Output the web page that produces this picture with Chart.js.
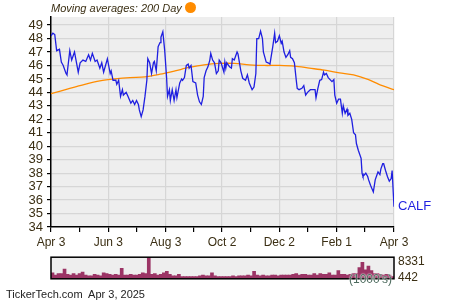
<!DOCTYPE html>
<html>
<head>
<meta charset="utf-8">
<script src="https://cdn.jsdelivr.net/npm/chart.js@4.4.1/dist/chart.umd.min.js"></script>
<style>
  body { margin: 0; background: #fff; width: 450px; height: 300px; overflow: hidden; position: relative; font-family: 'Liberation Sans', Arial, sans-serif; }
  canvas { position: absolute; left: 0; }
  #priceChart { top: 0; }
  #volChart { top: 246px; }
  .txt { position: absolute; white-space: nowrap; color: #3b2f14; }
  #head { left: 51px; top: 2px; font-size: 11px; font-style: italic; line-height: 13px; }
  #dot { position: absolute; left: 185px; top: 2px; width: 11px; height: 11px; border-radius: 50%; background: #ff8c00; }
  #units { left: 349px; top: 273px; font-size: 12px; line-height: 13px; color: #4d6b5e; text-shadow: 0 0 2px #fff, 0 0 1px #fff; }
  #foot { left: 6px; top: 288px; font-size: 11px; line-height: 13px; color: #222; }
</style>
</head>
<body>
<canvas id="priceChart" width="450" height="252"></canvas>
<canvas id="volChart" width="450" height="44"></canvas>
<div class="txt" id="head">Moving averages: 200 Day</div>
<div id="dot"></div>
<div class="txt" id="units">(1000's)</div>
<div class="txt" id="foot">TickerTech.com&nbsp; Apr 3, 2025</div>
<script>
// days since Apr 3, 2024
const days = [0,2,4,6,9,11,13,16,17,20,22,25,29,31,34,37,40,42,44,47,49,52,54,56,58,60,63,64,66,69,70,72,74,76,77,80,82,85,87,89,91,93,94,96,98,100,102,103,105,107,109,110,112,114,116,117,119,121,123,124,126,127,129,131,133,134,137,139,140,142,144,146,147,149,151,154,156,158,160,162,163,165,167,169,170,172,174,176,178,179,181,184,185,186,187,190,192,193,195,198,199,202,204,207,209,211,214,216,218,219,221,223,225,226,229,231,233,236,238,239,241,243,245,246,248,250,252,254,255,257,259,261,262,264,267,269,271,273,276,278,281,282,284,286,288,290,291,293,295,297,299,301,302,304,306,308,310,311,313,315,316,318,320,322,324,325,327,330,331,332,335,337,338,340,343,345,347,348,350,351,353,354,356,358,360,362,363,365];
const prices = [48.2,48.4,48.3,47.1,47.2,46.25,46.0,45.4,45.3,47.1,46.4,47.0,45.5,46.2,46.4,46.3,46.8,46.4,46.9,46.3,46.4,45.8,46.2,45.5,46.0,46.5,45.4,45.6,44.9,44.9,44.6,44.9,43.7,44.2,43.8,44.0,43.7,43.2,43.4,43.1,43.4,43.1,42.7,42.2,42.7,43.7,44.9,46.5,46.2,45.4,46.2,46.3,45.6,47.4,47.7,48.1,48.5,47.1,45.1,43.7,44.2,43.4,44.2,43.4,44.2,43.6,44.7,45.0,44.9,45.1,46.0,46.1,45.8,46.0,44.8,44.7,43.8,43.3,43.1,43.7,45.1,45.6,45.9,46.4,46.9,46.4,46.2,45.4,45.6,46.4,46.2,45.5,46.25,45.8,46.2,45.9,45.8,46.5,46.4,47.0,46.85,45.6,45.05,44.9,45.3,44.7,44.2,44.4,45.4,48.0,48.0,48.55,48.0,47.0,46.25,46.2,46.1,47.4,48.4,47.7,47.8,48.2,47.65,47.8,47.0,46.6,46.8,47.1,46.6,46.5,46.2,44.9,44.3,44.2,44.3,44.5,43.8,44.0,44.2,44.2,44.2,43.6,44.3,44.9,44.95,45.5,45.3,45.4,45.1,44.95,44.8,44.95,43.8,43.2,43.5,43.5,42.45,43.0,42.45,42.75,42.3,42.45,42.0,41.0,40.85,40.2,39.7,39.1,38.0,37.75,38.0,37.75,37.5,37.1,36.6,37.5,37.9,38.1,37.9,38.3,38.7,38.7,38.2,37.75,37.4,37.6,38.2,35.5];
const maDays = [0,20,36,52,68,84,100,116,132,147,163,179,195,211,227,243,259,275,291,307,322,338,349,365];
const maValues = [43.9,44.3,44.6,44.85,45.0,45.1,45.15,45.35,45.6,45.85,46.05,46.15,46.15,46.05,46.0,46.0,45.95,45.8,45.65,45.45,45.3,44.95,44.6,44.2];
// volume in thousands, roughly every 3 days
const volumes = [2930,1830,2560,2560,4760,2200,1830,2560,1830,2560,3290,1830,1460,1460,2200,1830,1460,2930,2560,2200,1830,2200,1830,5120,1830,1830,2200,1830,1830,2200,2930,2560,10400,2200,2560,1830,2200,2930,3660,2200,1460,1460,2200,1100,1100,1100,1100,1100,1100,1460,1830,1460,1460,2930,1460,1100,1100,
  1100,1100,1100,1460,1100,1460,1460,1460,1830,1460,3660,1830,1460,1830,1460,1460,1830,1830,1460,1830,1830,1830,1830,2200,2560,1830,2200,2200,1830,1830,2560,1830,2560,2200,2200,2930,1830,1830,4030,2200,2200,1830,2200,2560,2560,5490,8050,4390,6220,4030,2560,2560,2200,1830,2200,1830,1100];
const tickDays = [0,30,61,91,122,152,182,212,243,273,304,334,365];
const labelDays = [0,61,122,182,243,304,365];
const labelText = ['Apr 3','Jun 3','Aug 3','Oct 2','Dec 2','Feb 1','Apr 3'];
const volTicks = [442,8331];

const ink = '#3b2f14';
const font = "'Liberation Sans', Arial, sans-serif";

const areaBg = {
  id: 'areaBg',
  beforeDraw(chart) {
    const a = chart.chartArea, c = chart.ctx;
    c.save();
    c.fillStyle = '#eeeeee';
    c.fillRect(a.left, a.top, a.right - a.left, a.bottom - a.top);
    c.restore();
  }
};

const lastLabel = {
  id: 'lastLabel',
  afterDatasetsDraw(chart) {
    const x = chart.scales.x.getPixelForValue(days[days.length - 1]);
    const y = chart.scales.y.getPixelForValue(prices[prices.length - 1]);
    const c = chart.ctx;
    c.save();
    c.fillStyle = '#1f1fe0';
    c.font = '13px ' + font;
    c.textBaseline = 'middle';
    c.fillText('CALF', x + 4, y);
    c.restore();
  }
};

new Chart(document.getElementById('priceChart'), {
  type: 'line',
  data: {
    datasets: [{
      label: 'CALF',
      data: days.map((d, i) => ({ x: d, y: prices[i] })),
      borderColor: '#1f1fe0',
      borderWidth: 1.3,
      pointRadius: 0,
      tension: 0
    }, {
      label: '200 Day',
      data: maDays.map((d, i) => ({ x: d, y: maValues[i] })),
      borderColor: '#ff8c00',
      borderWidth: 1.3,
      pointRadius: 0,
      tension: 0.3
    }]
  },
  options: {
    responsive: false,
    animation: false,
    layout: { padding: { top: 17, right: 56, left: 0, bottom: 0 } },
    plugins: { legend: { display: false }, tooltip: { enabled: false } },
    scales: {
      x: {
        type: 'linear',
        min: 0,
        max: 365,
        afterBuildTicks: s => { s.ticks = tickDays.map(v => ({ value: v })); },
        afterFit: s => { s.height = 25; },
        grid: {
          color: ctx => (ctx.tick && labelDays.includes(ctx.tick.value) && ctx.tick.value !== 0) ? '#d6d6d6' : 'rgba(0,0,0,0)',
          tickColor: '#000',
          tickLength: 5,
          lineWidth: 1.2
        },
        border: { color: '#000', width: 1.5 },
        ticks: {
          autoSkip: false,
          maxRotation: 0,
          padding: 3,
          color: ink,
          font: { family: font, size: 12 },
          callback: v => { const i = labelDays.indexOf(v); return i >= 0 ? labelText[i] : ''; }
        }
      },
      y: {
        min: 34,
        max: 49.6,
        afterBuildTicks: s => { const t = []; for (let v = 34; v <= 49; v++) t.push({ value: v }); s.ticks = t; },
        afterFit: s => { s.width = 51; },
        grid: {
          color: ctx => (ctx.tick && ctx.tick.value === 34) ? 'rgba(0,0,0,0)' : '#d6d6d6',
          tickColor: '#000',
          tickLength: 4,
          lineWidth: 1.2
        },
        border: { color: '#000', width: 1.5 },
        ticks: { autoSkip: false, padding: 4, color: ink, font: { family: font, size: 13 }, callback: v => String(v) }
      }
    }
  },
  plugins: [areaBg, lastLabel]
});

const volFrame = {
  id: 'volFrame',
  afterDraw(chart) {
    const a = chart.chartArea, c = chart.ctx;
    c.save();
    c.strokeStyle = '#000';
    c.lineWidth = 1.5;
    c.strokeRect(a.left, a.top, a.right - a.left, a.bottom - a.top);
    c.restore();
  }
};

new Chart(document.getElementById('volChart'), {
  type: 'bar',
  data: {
    labels: volumes.map((v, i) => i),
    datasets: [{
      data: volumes,
      backgroundColor: '#9b3465',
      barPercentage: 1,
      categoryPercentage: 1,
      borderWidth: 0
    }]
  },
  options: {
    responsive: false,
    animation: false,
    layout: { padding: { top: 10, right: 0, left: 51, bottom: 5 } },
    plugins: { legend: { display: false }, tooltip: { enabled: false } },
    scales: {
      x: { display: false },
      y: {
        position: 'right',
        min: 0,
        max: 10500,
        afterBuildTicks: s => { s.ticks = volTicks.map(v => ({ value: v })); },
        afterFit: s => { s.width = 56; },
        grid: { display: false, drawTicks: false },
        border: { display: false },
        ticks: { autoSkip: false, padding: 4, color: ink, font: { family: font, size: 12 }, callback: v => String(v) }
      }
    }
  },
  plugins: [areaBg, volFrame]
});
</script>
</body>
</html>
